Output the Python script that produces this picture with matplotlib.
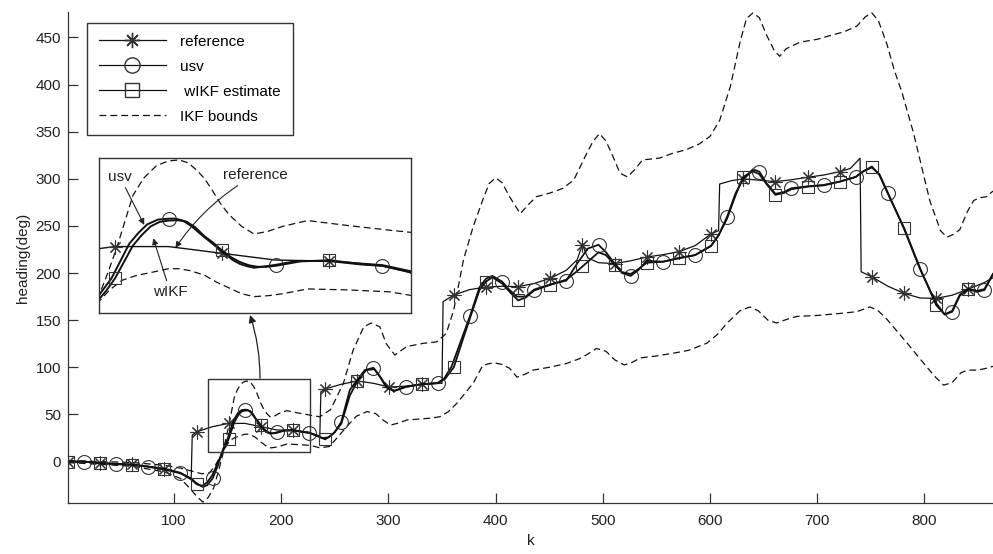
import numpy as np
import matplotlib
matplotlib.use("Agg")
import matplotlib.pyplot as plt
from matplotlib.patches import Rectangle

plt.rcParams['font.family'] = ['Liberation Sans', 'DejaVu Sans']

# =========================
# DADOS
# =========================

# reference (linha fina com degraus)
ref_k = [1, 16, 31, 46, 61, 76, 91, 106, 116, 117, 121, 136, 151, 166, 181, 196, 211, 226,
         236, 237, 241, 256, 271, 286, 301, 316, 331, 346, 350, 351, 361, 376, 391, 406,
         421, 436, 451, 466, 476, 481, 486, 496, 511, 526, 541, 556, 571, 586, 601, 608,
         609, 620, 631, 646, 661, 676, 691, 706, 721, 731, 740, 741, 751, 766, 781, 796,
         811, 826, 841, 856, 864]
ref_v = [0, -0.5, -1.5, -2, -3, -5, -8, -12, -18, 28, 31.6, 37, 40.5, 40.5, 37, 33.5, 33, 31,
         27, 74, 77, 82, 85.5, 83, 79, 80, 82, 83, 83, 169.6, 176.7, 182.5, 185, 186,
         185.5, 189, 194.4, 203, 214, 230, 216, 211, 210, 213, 217, 219.5, 222.7, 229, 241.5, 245,
         294.5, 298, 300, 298.5, 297, 299, 301.6, 304, 307.6, 311, 321.8, 201.4, 196, 186, 178.5, 173.5,
         173.2, 176.5, 183, 190, 195]

# usv
usv_k = [1, 16, 31, 46, 61, 76, 91, 106, 116, 121, 127, 131, 136, 141, 146, 148, 150, 152.5,
         155, 157.5, 160, 163, 166, 168, 170, 172.5, 175, 178, 181, 184, 186, 188, 190, 193,
         196, 202, 211, 220, 226, 232, 238, 244, 250, 256,
         264, 271, 278, 286, 292, 298, 305, 316, 331, 346, 352, 359, 367, 376, 385, 391,
         397, 406, 413, 420, 428, 436, 451, 466, 476, 486, 496, 503, 511, 518, 526, 533,
         541, 556, 571, 586, 601, 608, 616, 624, 631, 640, 646, 653, 661, 669, 676, 691,
         706, 721, 736, 743, 751, 758, 766, 781, 796, 811, 819, 826, 833, 841, 849, 856, 864]
usv_v = [0, 0, -1.5, -2.7, -3.5, -5.5, -8.5, -12.5, -18, -23, -27, -25, -18, -4, 14, 19, 24, 33,
         42, 47.5, 52, 54.5, 55, 55, 54, 51, 47, 42.5, 38, 33.5, 31.5, 30.3, 29.5, 30.2,
         31, 33, 33, 31.2, 30.5, 28, 25, 25.5, 31, 42,
         76, 86.5, 97, 99.5, 90, 79, 75, 79.4, 82, 83.5, 88, 101, 126, 154, 185, 194,
         197, 191, 182, 175, 175, 182.5, 188, 192, 210, 226, 230, 222, 210, 200, 197, 203,
         213, 212, 216, 219, 229, 240, 260, 285, 300, 310, 307.6, 295, 284, 286, 290, 292,
         293.5, 297, 302, 308, 312, 305, 285, 247, 204, 168, 156, 159, 176, 183, 180, 182, 199]

# wIKF estimate
wikf_k = [1, 16, 31, 46, 61, 76, 91, 106, 116, 121, 126, 131, 136, 141, 146, 148.5, 151, 153.5,
          156, 158.5, 161, 163.5, 166, 168.5, 171, 173.5, 176, 178.5, 181, 183.5, 186, 188.5,
          191, 193.5, 196, 203, 211, 220, 226, 233, 241, 248, 256, 264,
          271, 279, 287, 293, 299, 306, 316, 331, 346, 353, 361, 369, 376, 385, 391, 397,
          406, 414, 421, 428, 436, 451, 466, 476, 481, 488, 496, 503, 511, 518, 526, 533,
          541, 556, 571, 586, 601, 608, 616, 624, 631, 640, 646, 653, 661, 669, 676, 691,
          706, 721, 736, 743, 751, 758, 766, 781, 796, 811, 819, 826, 833, 841, 849, 856, 864]
wikf_v = [0, 0, -2, -2.7, -3.4, -5.5, -7.5, -12, -19, -24, -26, -22, -14, -1, 12, 17.5, 24, 32.5,
          41, 46.5, 51, 53.3, 54, 54.2, 53.5, 50.5, 46, 42.5, 38.5, 35, 32.5, 30.8,
          30, 30, 30.5, 32.8, 33.4, 31.5, 30.5, 27.5, 23.5, 29, 40, 70,
          85, 97, 98, 89, 78, 75, 79, 82, 83, 88, 100, 128, 152, 182, 191, 195.5,
          189, 179, 171, 174, 181.5, 187.5, 193, 202, 207, 214, 222, 219, 208.6, 201, 199, 204,
          211, 212, 215.7, 219, 228.7, 240, 258, 283, 302, 308, 305, 294, 283, 285, 289, 291.7,
          293, 297, 302, 308, 313, 304, 284, 248, 205, 166, 156, 160, 177, 183, 181, 183, 199]

# IKF bounds (superior / inferior)
up_k = [1, 31, 61, 91, 106, 116, 126, 133, 138, 143, 146.5, 149, 151.5, 154, 156, 159, 162.6,
        166, 169, 171.5, 174, 176, 178, 180.5, 183, 186.5, 190, 194, 198, 205, 216, 228, 236,
        246, 258, 267, 277, 284, 292, 298, 306, 317, 333,
        345, 354, 361, 370, 379, 388, 394, 400, 406, 413, 423, 430, 438, 451, 463, 473, 485,
        491, 497, 503, 509, 516, 523, 530, 537, 553, 565, 578, 590, 600, 609, 619, 628, 634,
        640, 646, 653, 660, 665, 671, 684, 700, 709, 725, 737, 745, 751, 757, 765, 772, 779,
        790, 805, 815, 821, 827, 833, 840, 846, 852, 858, 864]
up_v = [1, 0, -1, -4, -7, -10, -13, -12, -5, 5, 15, 27, 40, 55, 67, 76, 82.5,
        85, 85.5, 84, 80, 76, 70.5, 63, 57, 51, 47, 48.5, 51, 54, 51.5, 49, 47.5,
        55, 83, 118, 143, 147, 143, 125, 113, 122, 125.5,
        127, 136, 161, 214, 249, 277.5, 295, 301, 296, 281, 263, 272, 281, 285, 290, 299, 327,
        340, 348, 340, 325, 306, 302, 310, 320, 322, 327, 331, 337, 345, 362, 398, 445, 470,
        476, 471, 452, 436, 430, 438, 445, 448, 451, 456, 462, 472, 476, 468, 443, 415, 392,
        348, 277, 245, 238, 241, 246, 265, 277, 280, 281, 287]

lo_k = [1, 31, 61, 91, 106, 116, 122, 127, 132, 137, 142, 146.5, 149.5, 153, 157, 161, 166,
        169, 172, 176, 179.5, 183, 186.5, 190, 194, 198, 205, 216, 228, 236, 245, 252, 261,
        270, 280, 288, 295, 302, 310, 317,
        339, 348, 356, 364, 379, 388, 398, 406, 413, 420, 428, 435, 450, 466, 478, 486, 494,
        503, 511, 520, 527, 535, 550, 566, 580, 597, 607, 616, 628, 637, 645, 654, 662, 672,
        681, 700, 720, 737, 749, 756, 765, 784, 802, 810, 818, 826, 834, 840, 850, 858, 864]
lo_v = [-1, -3, -5, -11, -18, -30, -38, -43, -38, -28, -8, 12, 18, 23, 25.5, 27, 29,
        29, 28, 25.7, 22, 19, 16, 14.5, 15, 16, 18.5, 18, 17, 14.5, 16, 25, 37,
        48, 53, 51, 44, 38.7, 41, 44,
        46, 47.5, 53, 62, 83, 102, 105, 103, 99, 89.5, 93, 97, 100, 104, 109, 114, 120,
        117, 108, 102.5, 105, 110, 112, 115, 118, 125.5, 135, 147, 160, 164, 160, 150, 147, 151,
        154, 155, 157, 159, 164, 161, 151, 125.5, 100.6, 90, 81, 84, 94, 97, 97, 99, 101]

# posicoes dos marcadores (a cada 30 amostras)
marcas_a = list(range(1, 865, 30))   # estrelas e quadrados
marcas_b = list(range(16, 865, 30))  # circulos

xticks = [100, 200, 300, 400, 500, 600, 700, 800]
yticks = [0, 50, 100, 150, 200, 250, 300, 350, 400, 450]


def indices(ks, marcas):
    return [i for i, k in enumerate(ks) if k in marcas]


cor_linha = '#111111'
cor_marca = '#333333'
tracos = (5.5, 3.2)


def desenhar(a, lw_grossa=1.3, lw_fina=0.9, ms=10):
    a.plot(up_k, up_v, color=cor_linha, lw=0.9, dashes=tracos)
    a.plot(lo_k, lo_v, color=cor_linha, lw=0.9, dashes=tracos)
    a.plot(ref_k, ref_v, color=cor_linha, lw=lw_fina, marker=(8, 2, 0), ms=ms,
           mec=cor_marca, mew=0.8, markevery=indices(ref_k, marcas_a))
    a.plot(usv_k, usv_v, color=cor_linha, lw=lw_grossa, marker='o', ms=ms,
           mfc='none', mec=cor_marca, mew=0.8, markevery=indices(usv_k, marcas_b))
    a.plot(wikf_k, wikf_v, color=cor_linha, lw=lw_grossa, marker='s', ms=ms - 1,
           mfc='none', mec=cor_marca, mew=0.8, markevery=indices(wikf_k, marcas_a))


fig = plt.figure(figsize=(9.93, 5.54), dpi=100)
ax = fig.add_axes([67.9 / 993, 51 / 554, (993 - 67.9) / 993, 491 / 554])

desenhar(ax)
ax.set_xlim(1, 864)
ax.set_ylim(-44, 477)
ax.set_xticks(xticks)
ax.set_yticks(yticks)
ax.spines['top'].set_visible(False)
ax.spines['right'].set_visible(False)
for s in ['left', 'bottom']:
    ax.spines[s].set_color('#333333')
    ax.spines[s].set_linewidth(0.9)
ax.tick_params(direction='in', length=7, width=0.9, colors='#333333', labelsize=11,
               labelcolor='#222222')
ax.tick_params(axis='x', pad=8)
ax.tick_params(axis='y', pad=5)
ax.set_xlabel('k', fontsize=11, color='#222222', labelpad=4)
ax.set_ylabel('heading(deg)', fontsize=11, color='#222222', labelpad=4)

# caixa de zoom e seta
ax.add_patch(Rectangle((132, 10.4), 95, 77.2, fill=False, ec='#333333', lw=1.0, zorder=5))
ax.annotate('', xy=(170.9, 155.5), xytext=(180.2, 88.3),
            arrowprops=dict(arrowstyle='-|>', color='#222222', lw=0.9, mutation_scale=11,
                            connectionstyle='arc3,rad=0.08', shrinkA=0, shrinkB=0))

# legenda
ref_h = plt.Line2D([], [], color=cor_linha, lw=0.9, marker=(8, 2, 0), ms=11, mec=cor_marca)
usv_h = plt.Line2D([], [], color=cor_linha, lw=0.9, marker='o', ms=11, mfc='none', mec=cor_marca)
wikf_h = plt.Line2D([], [], color=cor_linha, lw=0.9, marker='s', ms=10, mfc='none', mec=cor_marca)
bnd_h = plt.Line2D([], [], color=cor_linha, lw=0.9, dashes=tracos)
leg = ax.legend([ref_h, usv_h, wikf_h, bnd_h], ['reference', 'usv', ' wIKF estimate', 'IKF bounds'],
                loc='upper left', bbox_to_anchor=(87.3 / 993, 1 - 23.3 / 554),
                bbox_transform=fig.transFigure, borderaxespad=0, fontsize=11,
                fancybox=False, framealpha=1, edgecolor='#333333', handlelength=4.4,
                handletextpad=0.95, labelspacing=0.72, borderpad=0.75, numpoints=1)
leg.get_frame().set_linewidth(1.0)

# inset ampliado
ax_in = fig.add_axes([99 / 993, (554 - 313) / 554, 312 / 993, 155 / 554])
desenhar(ax_in, lw_grossa=1.4, lw_fina=1.0, ms=10)
ax_in.set_xlim(146.5, 234)
ax_in.set_ylim(6, 86.5)
ax_in.set_xticks([])
ax_in.set_yticks([])
for s in ax_in.spines.values():
    s.set_color('#333333')
    s.set_linewidth(1.0)

seta = dict(arrowstyle='-|>', color='#222222', lw=0.8, mutation_scale=9, shrinkA=1, shrinkB=0)
ax_in.annotate('usv', xy=(0.145, 0.568), xytext=(0.067, 0.879), xycoords='axes fraction',
               textcoords='axes fraction', ha='center', va='center', fontsize=11,
               color='#222222', arrowprops=seta)
ax_in.annotate('reference', xy=(0.245, 0.42), xytext=(0.50, 0.89), xycoords='axes fraction',
               textcoords='axes fraction', ha='center', va='center', fontsize=11,
               color='#222222', arrowprops=dict(seta, connectionstyle='arc3,rad=0.12'))
ax_in.annotate('wIKF', xy=(0.174, 0.482), xytext=(0.228, 0.137), xycoords='axes fraction',
               textcoords='axes fraction', ha='center', va='center', fontsize=11,
               color='#222222', arrowprops=seta)

fig.savefig('out.png', dpi=100)
